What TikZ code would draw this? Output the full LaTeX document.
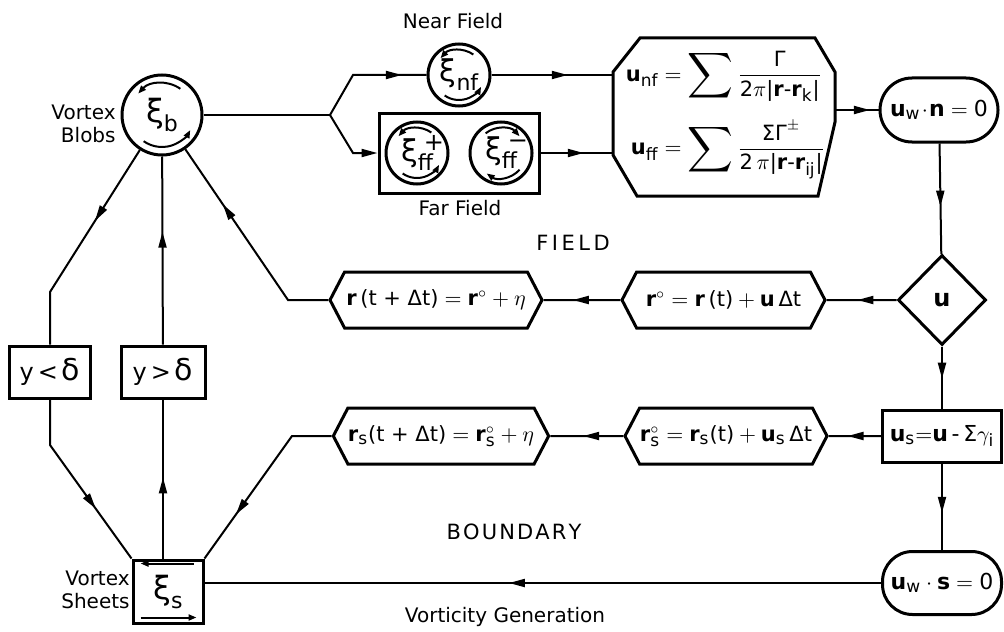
\documentclass[tikz,border=0pt]{standalone}
\usepackage{amsmath}
\usepackage{graphicx}
\usepackage{fontspec}
\setmainfont{DejaVu Sans}
\usetikzlibrary{arrows.meta,shapes.geometric,shapes.symbols,decorations.markings,calc}
\newcommand{\bv}[1]{\text{\textbf{#1}}}
\newcommand{\sbs}[1]{_{\text{\fontsize{8.5}{8.5}\selectfont #1}}}
\newcommand{\bigsum}{\mathop{\vcenter{\hbox{\scalebox{1.45}{$\displaystyle\sum$}}}}}
\newcommand{\xis}[2][16]{{\fontsize{#1}{#1}\selectfont ξ}\raisebox{-0.45em}{\fontsize{11}{11}\selectfont #2}}
\newcommand{\xiss}[2]{{\fontsize{15}{15}\selectfont ξ}\makebox[0pt][l]{\raisebox{0.55em}{\fontsize{12}{12}\selectfont\hspace{0.25em}#2}}\raisebox{-0.45em}{\fontsize{11}{11}\selectfont ff}}
\tikzset{
  bx/.style={draw, line width=1.5pt, inner sep=0pt},
  conn/.style={line width=1pt},
  endarr/.style={-{Triangle[length=8pt,width=4pt]}},
  midarr/.style={postaction={decorate}, decoration={markings, mark=at position #1 with {\arrow{Triangle[length=8pt,width=4pt]}}}},
  hexbox/.style={bx, signal, signal to=west and east, signal pointer angle=125, minimum height=28pt, font=\fontsize{10.5}{10.5}\selectfont},
  circ/.style={bx, circle},
  arcline/.style={line width=1pt, -{Triangle[length=4pt,width=3pt]}},
  lbl/.style={font=\fontsize{10}{11.5}\selectfont, inner sep=0pt},
  formula/.style={font=\fontsize{10.5}{10.5}\selectfont, inner sep=0pt},
}
\newcommand{\ccwarcs}[2]{%
  \draw[arcline] ([shift={(55:#2)}]#1.center) arc[start angle=55, end angle=138, radius=#2];
  \draw[arcline] ([shift={(235:#2)}]#1.center) arc[start angle=235, end angle=332, radius=#2];}
\newcommand{\cwarcs}[2]{%
  \draw[arcline] ([shift={(128:#2)}]#1.center) arc[start angle=128, end angle=42, radius=#2];
  \draw[arcline] ([shift={(318:#2)}]#1.center) arc[start angle=318, end angle=235, radius=#2];}
\begin{document}
\begin{tikzpicture}[x=0.5pt, y=0.5pt]
\useasboundingbox (0,0) rectangle (1004,-631);

% circles
\node[circ, minimum size=40pt] (blob) at (162,-115) {\xis{b}};
\node[circ, minimum size=31pt] (nf) at (459,-75) {\xis[15]{nf}};
\node[bx, minimum width=80pt, minimum height=40pt] (far) at (459,-153) {};
\node[circ, minimum size=31pt] (ffp) at (417,-153) {\xiss{ff}{+}};
\node[circ, minimum size=31pt] (ffm) at (501,-153) {\xiss{ff}{−}};
\ccwarcs{blob}{16pt}
\ccwarcs{nf}{12.5pt}
\ccwarcs{ffp}{12.5pt}
\cwarcs{ffm}{12.5pt}

% octagon
\node[minimum width=111pt, minimum height=79pt, inner sep=0pt] (oct) at (724,-117) {};
\draw[line width=1.5pt] (640,-38) -- (815,-38) -- (835,-72) -- (835,-122) -- (818,-196) -- (637,-196) -- (613,-155) -- (613,-72) -- cycle;
\node[formula] (fnf) at (724,-76) {$\bv{u}\sbs{nf} = \bigsum \dfrac{\text{Γ}}{\text{2}\pi\text{|}\bv{r}\text{-}\bv{r}\sbs{k}\text{|}}$};
\node[formula] (fff) at (728,-150) {$\bv{u}\sbs{ff} = \bigsum \dfrac{\text{ΣΓ}^{\pm}}{\text{2}\,\pi\text{|}\bv{r}\text{-}\bv{r}\sbs{ij}\text{|}}$};

% right column
\node[bx, rounded corners=16pt, minimum width=59pt, minimum height=32pt, font=\fontsize{11}{11}\selectfont] (uwn) at (939,-110) {$\bv{u}\sbs{w}\!\cdot\!\bv{n} = \text{0}$};
\node[bx, diamond, minimum width=44pt, minimum height=45pt, font=\fontsize{12}{12}\selectfont\bfseries] (dia) at (942,-300) {u};
\node[bx, minimum width=59.5pt, minimum height=26pt, font=\fontsize{11}{11}\selectfont] (us) at (942,-436) {$\bv{u}\sbs{s}{=}\bv{u}\,\text{-}\,\text{Σ}\gamma\sbs{i}$};
\node[bx, rounded corners=15pt, minimum width=59.5pt, minimum height=31.5pt, font=\fontsize{11}{11}\selectfont] (uws) at (942,-583) {$\bv{u}\sbs{w}\cdot\bv{s} = \text{0}$};

% hexagons
\node[hexbox, minimum width=106pt] (rn) at (436,-300) {$\bv{r}\,\text{(t + Δt)} = \bv{r}^{\circ} + \eta$};
\node[hexbox, minimum width=101.5pt] (rp) at (723.5,-300) {$\bv{r}^{\circ} = \bv{r}\,\text{(t)} + \bv{u}\,\text{Δt}$};
\node[hexbox, minimum width=106pt] (rsn) at (441,-436) {$\bv{r}\sbs{s}\text{(t + Δt)} = \bv{r}^{\circ}\sbs{s} + \eta$};
\node[hexbox, minimum width=101pt] (rsp) at (726,-436) {$\bv{r}^{\circ}\sbs{s} = \bv{r}\sbs{s}\text{(t)} + \bv{u}\sbs{s}\,\text{Δt}$};

% left boxes
\node[bx, minimum width=40.5pt, minimum height=26pt, font=\fontsize{12}{12}\selectfont] (ylt) at (50,-372) {y\,<\,{\fontsize{15}{15}\selectfont δ}};
\node[bx, minimum width=42pt, minimum height=26pt, font=\fontsize{12}{12}\selectfont] (ygt) at (163,-372) {y\,>\,{\fontsize{15}{15}\selectfont δ}};
\node[bx, minimum width=35pt, minimum height=31.5pt] (sheet) at (168,-591.5) {\xis{s}};
\draw[arcline] ([xshift=-5.5pt,yshift=-2.5pt]sheet.north east) -- ([xshift=4.5pt,yshift=-2.5pt]sheet.north west);
\draw[arcline] ([xshift=4.5pt,yshift=3.5pt]sheet.south west) -- ([xshift=-4pt,yshift=3.5pt]sheet.south east);

% labels
\node[lbl, anchor=east, align=right] (lblob) at (116,-124) {Vortex\\Blobs};
\node[lbl, anchor=east, align=right] (lsheet) at (130,-590) {Vortex\\Sheets};
\node[lbl] (lnear) at (453,-21) {Near Field};
\node[lbl] (lfar) at (460,-208) {Far Field};
\node[lbl, font=\fontsize{10.5}{12}\selectfont] (lfield) at (573,-243) {F\,I\,E\,L\,D};
\node[lbl, font=\fontsize{10.5}{12}\selectfont] (lbound) at (514,-532) {B\kern.1em O\kern.1em U\kern.1em N\kern.1em D\kern.1em A\kern.1em R\kern.1em Y};
\node[lbl] (lvort) at (505,-617) {Vorticity Generation};

% coordinates
\coordinate (br) at (330,-115);
\coordinate (bru) at (353,-75);
\coordinate (brl) at (353,-153);
\coordinate (kL) at (50,-292);
\coordinate (kL2) at (50,-445);
\coordinate (kR) at (288,-300);
\coordinate (kS) at (292,-436);

% connectors
\draw[conn] (blob) -- (br);
\draw[conn, midarr=47.5pt] (br) -- (bru) -- (nf);
\draw[conn, endarr] (br) -- (brl) -- (far);
\draw[conn, midarr=0.63] (nf) -- (nf -| oct.west);
\draw[conn, midarr=0.6] (far) -- (far -| oct.west);
\draw[conn, midarr=0.8] (uwn -| oct.east) -- (uwn);
\draw[conn, midarr=0.57] (uwn) -- (dia);
\draw[conn, midarr=0.56] (dia) -- (rp);
\draw[conn, midarr=0.62] (rp) -- (rn);
\draw[conn, midarr=78pt] (rn) -- (kR) -- (blob);
\draw[conn, midarr=0.52] (dia) -- (us);
\draw[conn, midarr=0.64] (us) -- (rsp);
\draw[conn, midarr=0.55] (rsp) -- (rsn);
\draw[conn, midarr=68pt] (rsn) -- (kS) -- (sheet.north east);
\draw[conn, midarr=0.57] (us) -- (uws);
\draw[conn, midarr=0.55] (uws) -- (uws -| sheet.east);
\draw[conn, midarr=42pt] (blob) -- (kL) -- (ylt);
\draw[conn, midarr=62pt] (ylt) -- (kL2) -- (sheet.north west);
\draw[conn, midarr=0.51] (ygt |- sheet.north) -- (ygt);
\draw[conn, midarr=0.6] (ygt) -- (blob);
\end{tikzpicture}
\end{document}
